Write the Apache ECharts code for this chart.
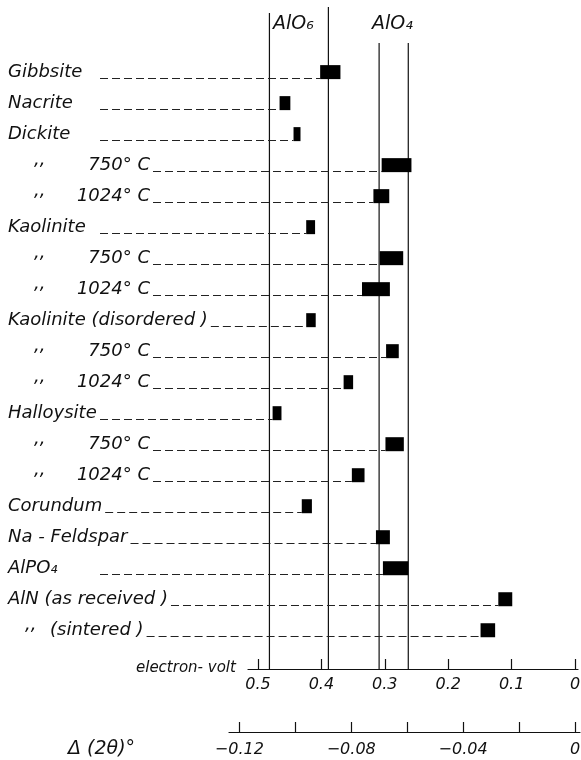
<!DOCTYPE html>
<html>
<head>
<meta charset="utf-8">
<script src="https://cdn.jsdelivr.net/npm/echarts@6/dist/echarts.min.js"></script>
<style>
  html, body { margin: 0; padding: 0; background: #fff; }
  #chart { width: 581px; height: 760px; }
</style>
</head>
<body>
<div id="chart"></div>
<script>
// Sample names, one row each (top to bottom)
const samples = [
  'Gibbsite', 'Nacrite', 'Dickite', '750° C', '1024° C',
  'Kaolinite', '750° C', '1024° C',
  'Kaolinite (disordered )', '750° C', '1024° C',
  'Halloysite', '750° C', '1024° C',
  'Corundum', 'Na - Feldspar', 'AlPO₄',
  'AlN (as received )', '(sintered )'
];
// Rows that repeat the material above (drawn with a ditto mark)
const dittoRows = [
  false, false, false, true, true,
  false, true, true,
  false, true, true,
  false, true, true,
  false, false, false,
  false, true
];
// Peak shift range in electron-volt: upper and lower bound of each bar
const shiftHigh = [
  0.402, 0.466, 0.444, 0.305, 0.318,
  0.424, 0.308, 0.336,
  0.424, 0.298, 0.365,
  0.477, 0.299, 0.352,
  0.431, 0.314, 0.303,
  0.121, 0.149
];
const shiftLow = [
  0.370, 0.449, 0.433, 0.258, 0.293,
  0.410, 0.271, 0.292,
  0.409, 0.278, 0.350,
  0.463, 0.270, 0.332,
  0.415, 0.292, 0.263,
  0.099, 0.126
];
// Reference lines (eV) bounding the AlO6 and AlO4 coordination ranges
const refLines = [0.482, 0.389, 0.309, 0.263];
const refLineTops = [-1.906, -2.1, -0.939, -0.939];
// Tick values of both scales
const evTicks = [0.5, 0.4, 0.3, 0.2, 0.1, 0];
const thetaTicks = [-0.12, -0.10, -0.08, -0.06, -0.04, -0.02, 0];
const thetaLabels = [-0.12, -0.08, -0.04, 0];

const FONT = '"DejaVu Sans", sans-serif';
const INK = '#111';
const Y_MIN = -2.1, Y_MAX = 19.25;

const measureCtx = document.createElement('canvas').getContext('2d');
measureCtx.font = 'italic 18px "DejaVu Sans"';
const textWidth = s => measureCtx.measureText(s).width;

function renderRow(params, api) {
  const i = api.value(2);
  const pHi = api.coord([api.value(0), i]);
  const pLo = api.coord([api.value(1), i]);
  const y = pHi[1];
  const name = samples[i];
  const children = [];
  let textEnd;
  const labelStyle = {
    font: 'italic 18px ' + FONT, fill: INK, verticalAlign: 'middle'
  };
  if (dittoRows[i]) {
    const isTemp = name.indexOf('°') >= 0;
    children.push({
      type: 'text',
      style: Object.assign({}, labelStyle, { text: ',,', x: isTemp ? 34 : 25, y: y - 5, align: 'left' })
    });
    if (isTemp) {
      children.push({
        type: 'text',
        style: Object.assign({}, labelStyle, { text: name, x: 150, y: y, align: 'right' })
      });
      textEnd = 150;
    } else {
      children.push({
        type: 'text',
        style: Object.assign({}, labelStyle, { text: name, x: 50, y: y, align: 'left' })
      });
      textEnd = 50 + textWidth(name);
    }
  } else {
    children.push({
      type: 'text',
      style: Object.assign({}, labelStyle, { text: name, x: 8, y: y, align: 'left' })
    });
    textEnd = 8 + textWidth(name);
  }
  // dashed leader from the label to the bar, on the text baseline
  const leadStart = Math.max(textEnd + 3, 100);
  const leadY = Math.round(y + 6) + 0.5;
  children.push({
    type: 'line',
    shape: { x1: leadStart, y1: leadY, x2: pHi[0], y2: leadY },
    style: { stroke: '#222', lineWidth: 1, lineDash: [8, 4] }
  });
  children.push({
    type: 'rect',
    shape: { x: pHi[0], y: y - 7, width: pLo[0] - pHi[0], height: 14 },
    style: { fill: '#000' }
  });
  return { type: 'group', children: children };
}

function renderRefLine(params, api) {
  const top = api.coord([api.value(0), api.value(1)]);
  const bottom = api.coord([api.value(0), Y_MAX]);
  return {
    type: 'line',
    shape: { x1: top[0], y1: top[1], x2: bottom[0], y2: bottom[1] },
    style: { stroke: '#111', lineWidth: 1.2 }
  };
}

const chart = echarts.init(document.getElementById('chart'), null, { renderer: 'canvas' });

chart.setOption({
  backgroundColor: '#fff',
  animation: false,
  grid: [
    { left: 248, right: 3, top: 7, bottom: 91, containLabel: false, outerBoundsMode: 'none' },
    { left: 229, right: 1, top: 716, bottom: 28, containLabel: false, outerBoundsMode: 'none' }
  ],
  xAxis: [
    {
      type: 'value', gridIndex: 0, inverse: true,
      min: -0.0047, max: 0.5158,
      axisLine: { show: true, onZero: false, lineStyle: { color: INK, width: 1.2 } },
      axisTick: { show: true, inside: true, length: 10, customValues: evTicks, lineStyle: { color: INK, width: 1.2 } },
      axisLabel: {
        customValues: evTicks, margin: 8,
        fontFamily: FONT, fontStyle: 'italic', fontSize: 16, color: INK,
        formatter: v => String(Math.round(v * 10) / 10)
      },
      splitLine: { show: false }
    },
    {
      type: 'value', gridIndex: 1,
      min: -0.1237, max: 0.0018,
      axisLine: { show: true, onZero: false, lineStyle: { color: INK, width: 1.2 } },
      axisTick: { show: true, inside: true, length: 10, customValues: thetaTicks, lineStyle: { color: INK, width: 1.2 } },
      axisLabel: {
        customValues: thetaLabels, margin: 10,
        fontFamily: FONT, fontStyle: 'italic', fontSize: 16, color: INK,
        formatter: v => (Math.abs(v) < 1e-9 ? '0' : '−' + Math.abs(v).toFixed(2))
      },
      splitLine: { show: false }
    }
  ],
  yAxis: [
    { type: 'value', gridIndex: 0, inverse: true, min: Y_MIN, max: Y_MAX, show: false },
    { type: 'value', gridIndex: 1, min: 0, max: 1, show: false }
  ],
  series: [
    {
      type: 'custom', xAxisIndex: 0, yAxisIndex: 0, clip: false,
      renderItem: renderRefLine,
      data: refLines.map((v, k) => [v, refLineTops[k]])
    },
    {
      type: 'custom', xAxisIndex: 0, yAxisIndex: 0, clip: false,
      renderItem: renderRow,
      data: samples.map((s, i) => [shiftHigh[i], shiftLow[i], i])
    }
  ],
  graphic: [
    { type: 'text', left: 273, top: 15, style: { text: 'AlO₆', font: 'italic 19px ' + FONT, fill: INK } },
    { type: 'text', left: 372, top: 15, style: { text: 'AlO₄', font: 'italic 19px ' + FONT, fill: INK } },
    { type: 'text', left: 136, top: 661, style: { text: 'electron- volt', font: 'italic 15px ' + FONT, fill: INK } },
    { type: 'text', left: 68, top: 740, style: { text: 'Δ (2θ)°', font: 'italic 19px ' + FONT, fill: INK } }
  ]
});
</script>
</body>
</html>
